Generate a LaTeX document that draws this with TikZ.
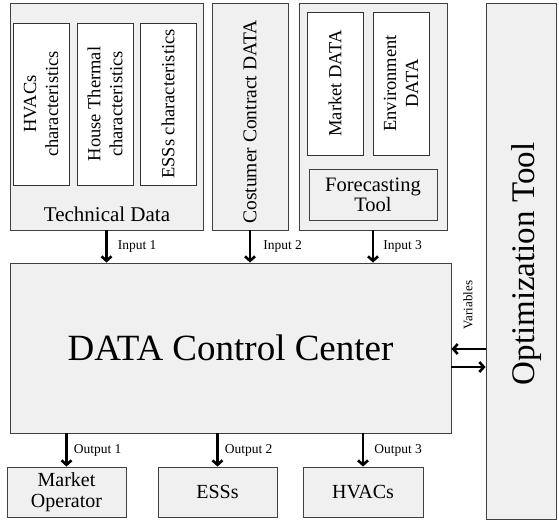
\documentclass[tikz,border=0pt]{standalone}
\usepackage{fontspec}
\setmainfont{Liberation Serif}
\usepackage{tikz}
\usetikzlibrary{arrows.meta}

\definecolor{boxgray}{HTML}{F0F0F0}

\begin{document}
\begin{tikzpicture}[x=1pt,y=-1pt]
  \tikzstyle{outer}=[draw=black!75, fill=boxgray, line width=0.9pt, inner sep=0pt]
  \tikzstyle{inner}=[draw=black!80, fill=white, line width=0.9pt, inner sep=0pt, align=center]
  \tikzstyle{arr}=[line width=2.6pt, -{Straight Barb[length=4.5pt,width=10pt]}]
  \tikzstyle{lbl}=[inner sep=1pt, font=\fontsize{13.5}{15}\selectfont]
  \useasboundingbox (0,0) rectangle (559,522);
  % input side
  \node[outer, minimum width=193, minimum height=227] (T_1) at (106.5,116.5) {};
  \node[outer, minimum width=76, minimum height=227] (C_1) at (250,116.5) {};
  \node[outer, minimum width=148, minimum height=227] (F_1) at (373,116.5) {};
  \node[inner, rotate=90, minimum width=162, minimum height=56, font=\fontsize{18.5}{22}\selectfont] (T_2) at (41,104) {HVACs\\characteristics};
  \node[inner, rotate=90, minimum width=162, minimum height=56, font=\fontsize{18.5}{22}\selectfont] (T_3) at (105,104) {House Thermal\\characteristics};
  \node[inner, rotate=90, minimum width=162, minimum height=56, font=\fontsize{18.5}{22}\selectfont] (T_4) at (168,104) {ESSs characteristics};
  \node[font=\fontsize{21}{22}\selectfont] (T_5) at (107,214) {Technical Data};
  \node[rotate=90, font=\fontsize{19.5}{22}\selectfont] (C_2) at (250,122) {Costumer Contract DATA};
  \node[inner, rotate=90, minimum width=143, minimum height=56, font=\fontsize{18.5}{22}\selectfont] (F_2) at (335,83.5) {Market DATA};
  \node[inner, rotate=90, minimum width=143, minimum height=56, font=\fontsize{18.5}{22}\selectfont] (F_3) at (401,83.5) {Environment\\DATA};
  \node[outer, align=center, minimum width=128, minimum height=51, font=\fontsize{20.5}{20}\selectfont] (F_4) at (373,194.5) {Forecasting\\Tool};
  % center and optimizer
  \node[outer, minimum width=441, minimum height=170, font=\fontsize{37}{40}\selectfont] (D_1) at (230.5,348) {DATA Control Center};
  \node[outer, minimum width=70, minimum height=516] (O_1) at (521,261) {};
  \node[rotate=90, font=\fontsize{33}{36}\selectfont] (O_2) at (527,264) {Optimization Tool};
  % outputs
  \node[outer, align=center, minimum width=119, minimum height=50, font=\fontsize{20}{21}\selectfont] (M_1) at (66.5,492) {Market\\Operator};
  \node[outer, minimum width=119, minimum height=50, font=\fontsize{20}{21}\selectfont] (E_1) at (217.5,492) {ESSs};
  \node[outer, minimum width=120, minimum height=50, font=\fontsize{20}{21}\selectfont] (H_1) at (363,492) {HVACs};
  \draw[arr] (T_1.south) -- (T_1.south |- D_1.north) node[lbl, midway, right=9pt] (I_1) {Input 1};
  \draw[arr] (C_1.south) -- (C_1.south |- D_1.north) node[lbl, midway, right=11pt] (I_2) {Input 2};
  \draw[arr] (F_1.south) -- (F_1.south |- D_1.north) node[lbl, midway, right=8pt] (I_3) {Input 3};
  \draw[arr] (M_1.north |- D_1.south) -- (M_1.north) node[lbl, midway, right=5pt] (P_1) {Output 1};
  \draw[arr] (E_1.north |- D_1.south) -- (E_1.north) node[lbl, midway, right=5pt] (P_2) {Output 2};
  \draw[arr] (H_1.north |- D_1.south) -- (H_1.north) node[lbl, midway, right=9pt] (P_3) {Output 3};
  \draw[arr] (O_1.west |- 0,349) -- (D_1.east |- 0,349);
  \draw[arr] (D_1.east |- 0,367) -- (O_1.west |- 0,367);
  \node[lbl, rotate=90, font=\fontsize{13}{15}\selectfont] (V_1) at (468,305) {Variables};
\end{tikzpicture}
\end{document}
